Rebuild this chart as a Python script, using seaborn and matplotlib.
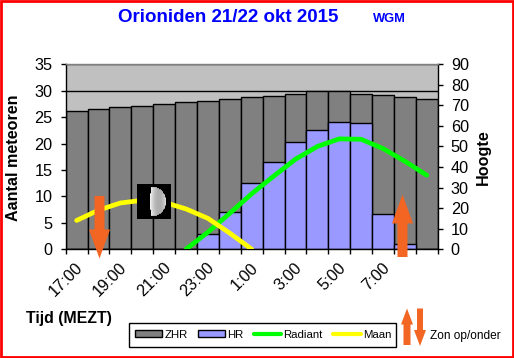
import numpy as np
import pandas as pd
import matplotlib
matplotlib.use("Agg")
import matplotlib.pyplot as plt
from matplotlib.patches import Polygon, Rectangle, Patch
from matplotlib.lines import Line2D
from matplotlib.transforms import ScaledTranslation
import seaborn as sns

hours = ["17:00","18:00","19:00","20:00","21:00","22:00","23:00","0:00","1:00",
         "2:00","3:00","4:00","5:00","6:00","7:00","8:00","9:00"]
zhr = [26.2,26.6,26.95,27.15,27.5,27.9,28.1,28.45,28.8,29.0,29.45,29.9,29.9,29.45,29.25,28.85,28.5]
hr = [0,0,0,0,0,0,2.9,7.1,12.6,16.6,20.2,22.6,24.0,23.8,6.6,1.0,0.1]
radiant = [np.nan,np.nan,np.nan,np.nan,np.nan,0,8.3,17.5,27,35.5,43.8,50,53.7,53.5,49,42.8,36]
maan = [14,19,22.5,23.8,22.8,19.6,15,7.8,0,np.nan,np.nan,np.nan,np.nan,np.nan,np.nan,np.nan,np.nan]
left_ticks = [0,5,10,15,20,25,30,35]
right_ticks = [0,10,20,30,40,50,60,70,80,90]

W, H = 514, 358
sns.set_style("white")
FONT = ['Liberation Sans', 'DejaVu Sans']
plt.rcParams['font.family'] = FONT
plt.rcParams['text.color'] = "black"
plt.rcParams['xtick.color'] = "black"
plt.rcParams['ytick.color'] = "black"
plt.rcParams['axes.labelcolor'] = "black"

fig = plt.figure(figsize=(W/100, H/100), dpi=100, facecolor="white")
def fx(x): return x/W
def fy(y): return 1-y/H
L, R, T, B = 65.7, 437.7, 64.3, 249.2
ax = fig.add_axes([fx(L), fy(B), (R-L)/W, (B-T)/H])
ax.set_facecolor("#C0C0C0")
ax.set_axisbelow(True)
ax.yaxis.grid(True, color="black", lw=1.0)
ax.xaxis.grid(False)

df = pd.DataFrame({"uur": hours, "ZHR": zhr, "HR": hr, "Radiant": radiant, "Maan": maan, "pos": np.arange(len(hours))})
sns.barplot(data=df, x="pos", y="ZHR", color="#808080", saturation=1, width=1.0,
            edgecolor="black", linewidth=1.0, ax=ax, native_scale=True)
sns.barplot(data=df, x="pos", y="HR", color="#9999FF", saturation=1, width=1.0,
            edgecolor="black", linewidth=1.0, ax=ax, native_scale=True)
ax.set_xlim(-0.5, 16.5)
ax.set_ylim(0, 35)
ax.set_yticks(left_ticks)
ax.set_xticks(np.arange(-0.5, 17, 1))
ax.set_xticklabels([])
ax.set_xticks(np.arange(0, 15, 2), minor=True)
ax.set_xticklabels([hours[i] for i in range(0, 15, 2)], minor=True, rotation=45, ha="right", va="center",
                   fontsize=11.7, rotation_mode="anchor")
ax.tick_params(axis="x", which="minor", length=0, pad=11.5)
ax.tick_params(axis="x", which="major", length=3.4, width=1, color="black", bottom=True)
ax.tick_params(axis="y", length=3.4, width=1, color="black", labelsize=11.7, pad=6, left=True)
offset = ScaledTranslation(4/100, 0, fig.dpi_scale_trans)
for lab in ax.get_xticklabels(minor=True):
    lab.set_transform(lab.get_transform() + offset)
ax.set_xlabel("")
ax.set_ylabel("")
for s in ["top", "right"]:
    ax.spines[s].set_visible(False)
for s in ["left", "bottom"]:
    ax.spines[s].set_color("black")
    ax.spines[s].set_linewidth(1.0)

ax2 = ax.twinx()
sns.lineplot(data=df, x="pos", y="Radiant", color="#00FF00", lw=3.4, ax=ax2, solid_capstyle="round", errorbar=None)
sns.lineplot(data=df, x="pos", y="Maan", color="#FFFF00", lw=3.4, ax=ax2, solid_capstyle="round", errorbar=None)
ax2.set_ylim(0, 90)
ax2.set_xlim(-0.5, 16.5)
ax2.set_yticks(right_ticks)
ax2.set_ylabel("")
ax2.set_xlabel("")
ax2.tick_params(axis="y", length=3.4, width=1, color="black", labelsize=11.7, pad=6, right=True)
ax2.spines["top"].set_color("#808080")
ax2.spines["top"].set_linewidth(1.0)
ax2.spines["left"].set_visible(False)
ax2.spines["bottom"].set_visible(False)
ax2.spines["right"].set_color("black")
ax2.spines["right"].set_linewidth(1.0)

# overlay in pixel coordinates
ov = fig.add_axes([0, 0, 1, 1], facecolor="none")
ov.axis("off")
ov.add_patch(Rectangle((1, 1), W-2, H-2, fill=False, ec="#FF0000", lw=2.0))

ORANGE = "#F26522"
def arrow_down(x, y0, y1, shaft, head, hl):
    ov.add_patch(Polygon([(x-shaft/2,y0),(x+shaft/2,y0),(x+shaft/2,y1-hl),(x+head/2,y1-hl),(x,y1),
                          (x-head/2,y1-hl),(x-shaft/2,y1-hl)], closed=True, fc=ORANGE, ec="none", zorder=6))
def arrow_up(x, y0, y1, shaft, head, hl):
    ov.add_patch(Polygon([(x-shaft/2,y0),(x+shaft/2,y0),(x+shaft/2,y1+hl),(x+head/2,y1+hl),(x,y1),
                          (x-head/2,y1+hl),(x-shaft/2,y1+hl)], closed=True, fc=ORANGE, ec="none", zorder=6))
arrow_down(99.5, 196, 258.5, 10, 21, 29)
arrow_up(402.5, 257, 194.5, 10, 21, 29)
arrow_up(407, 345, 308.5, 7, 12, 16)
arrow_down(420, 308.5, 346, 6, 12, 16)

# moon
n = 34
yy, xx = np.mgrid[0:n, 0:n]
cx, cy, r = 14.7, 17.0, 14.5
u = (xx-cx+0.5)/r; v = (yy-cy+0.5)/r
rr = u**2+v**2
term = -0.1*np.sqrt(np.clip(1-v**2, 0, 1))
lit = (rr <= 1) & (u >= term)
shade = np.clip(0.95-0.9*(u-term)+0.75*(u-term)**2, 0.45, 0.95)
img = np.where(lit, shade, 0.0)
ov.imshow(img, cmap="gray", vmin=0, vmax=1, extent=(137, 171, 218.7, 184), interpolation="bilinear", aspect="auto", zorder=5)
ov.set_xlim(0, W); ov.set_ylim(H, 0)

fig.text(fx(228.5), fy(17.5), "Orioniden 21/22 okt 2015", color="#0000FF", fontsize=13.5, fontweight="bold", ha="center", va="center")
fig.text(fx(389.5), fy(18.5), "WGM", color="#0000FF", fontsize=9.3, fontweight="bold", ha="center", va="center")
fig.text(fx(14), fy(158), "Aantal meteoren", rotation=90, fontsize=11.6, fontweight="bold", ha="center", va="center")
fig.text(fx(483), fy(157), "Hoogte", rotation=90, fontsize=11.6, fontweight="bold", ha="center", va="center")
fig.text(fx(69), fy(318), "Tijd (MEZT)", fontsize=11.4, fontweight="bold", ha="center", va="center")
fig.text(fx(465), fy(336), "Zon op/onder", fontsize=8.6, ha="center", va="center")

ov.add_patch(Rectangle((128.5, 322.5), 267, 24, fc="white", ec="black", lw=1.0, zorder=3))
handles = [Patch(fc="#808080", ec="black", lw=1, label="ZHR"),
           Patch(fc="#9999FF", ec="black", lw=1, label="HR"),
           Line2D([], [], color="#00FF00", lw=3, label="Radiant"),
           Line2D([], [], color="#FFFF00", lw=3, label="Maan")]
leg = ov.legend(handles=handles, ncol=4, loc="center", bbox_to_anchor=(fx(263), fy(334.5)), bbox_transform=fig.transFigure,
                fontsize=8.2, frameon=False, handlelength=2.4, handleheight=0.6, handletextpad=0.2, columnspacing=0.9, borderpad=0)
leg.set_zorder(4)

fig.savefig("out.png", dpi=100, facecolor="white")
